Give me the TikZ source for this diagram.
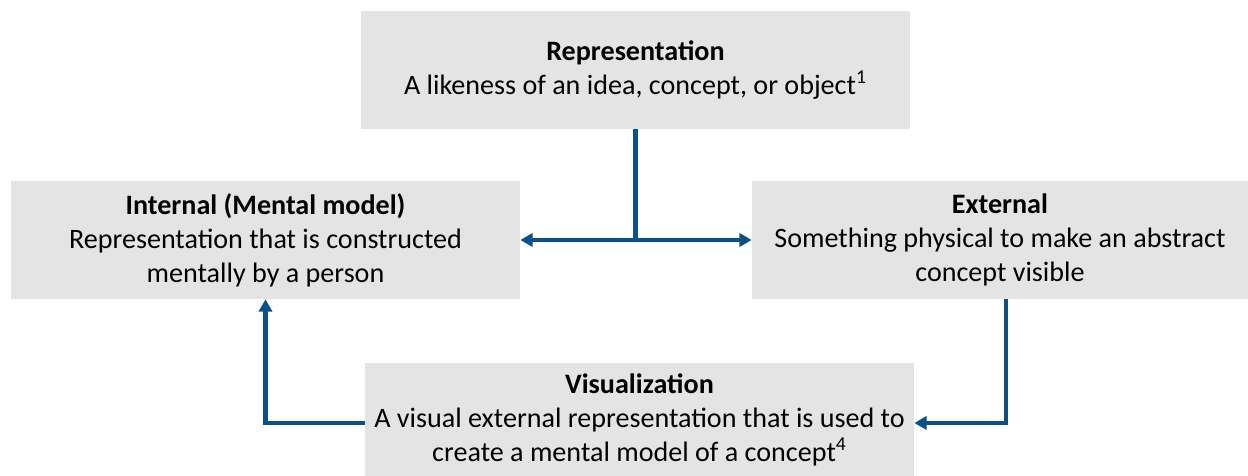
\documentclass[tikz,border=0pt]{standalone}
\usepackage{fontspec}
\setmainfont{Carlito}
\usetikzlibrary{arrows.meta}
\definecolor{boxgray}{RGB}{228,228,228}
\definecolor{linkblue}{RGB}{12,80,134}
\tikzset{
  infobox/.style={fill=boxgray, draw=none, align=center, inner sep=0pt,
    font=\fontsize{16}{19.3}\selectfont},
  link/.style={draw=linkblue, line width=2.3pt},
  linkarrow/.style={link, -{Triangle[length=7pt,width=7.5pt]}},
}
\begin{document}
\begin{tikzpicture}[x=0.02cm, y=-0.02cm]
  \useasboundingbox (0,0) rectangle (1248,476);
  \begin{scope}
    \clip (0,0) rectangle (1248,476);
    \node[infobox, minimum width=10.98cm, minimum height=2.36cm] (rep) at (635.5,70)
      {\textbf{Representation}\\A likeness of an idea, concept, or object\textsuperscript{1}};
    \node[infobox, minimum width=10.18cm, minimum height=2.36cm] (int) at (265.5,240)
      {\textbf{Internal (Mental model)}\\Representation that is constructed\\mentally by a person};
    \node[infobox, minimum width=9.92cm, minimum height=2.36cm] (ext) at (1000,240)
      {\textbf{External}\\Something physical to make an abstract\\concept visible};
    \node[infobox, minimum width=10.98cm, minimum height=2.26cm] (vis) at (639.5,419.5)
      {\textbf{Visualization}\\A visual external representation that is used to\\create a mental model of a concept\textsuperscript{4}};
  \end{scope}
  % branch from the general idea to its two kinds
  \coordinate (split) at (rep.south |- int.east);
  \draw[link] (rep.south) -- (split);
  \draw[link, {Triangle[length=7pt,width=7.5pt]}-{Triangle[length=7pt,width=7.5pt]}] (int.east) -- (ext.west);
  % loop through the visualization
  \draw[linkarrow] ([xshift=0.12cm]ext.south) |- ([yshift=-0.07cm]vis.east);
  \draw[linkarrow] ([yshift=-0.07cm]vis.west) -| (int.south);
\end{tikzpicture}
\end{document}
